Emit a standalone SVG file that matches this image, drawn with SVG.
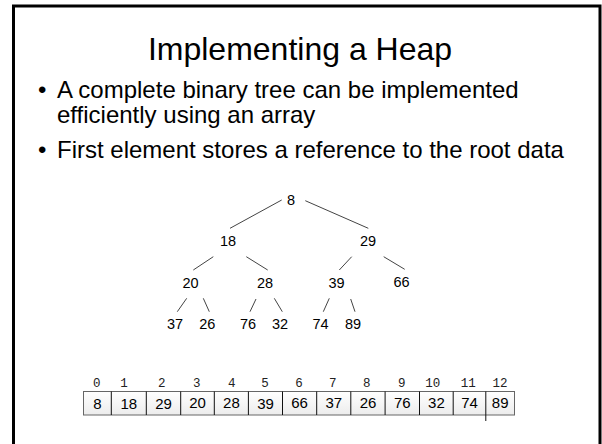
<svg xmlns="http://www.w3.org/2000/svg" width="602" height="444" viewBox="0 0 602 444">
<defs>
<style>
.title{font-family:"Liberation Sans",Arial,sans-serif;font-size:32px;fill:#000;text-anchor:middle}
.body{font-family:"Liberation Sans",Arial,sans-serif;font-size:24px;fill:#000}
.node{font-family:"Liberation Sans",Arial,sans-serif;font-size:14.5px;fill:#000;text-anchor:middle}
.val{font-family:"Liberation Sans",Arial,sans-serif;font-size:15px;fill:#000;text-anchor:middle}
.idx{font-family:"Liberation Mono","Courier New",monospace;font-size:12.5px;fill:#222;text-anchor:middle}
.edge{stroke:#444;stroke-width:1;fill:none}
.div{stroke:#111;stroke-width:1}
</style>
<linearGradient id="cellg" x1="0" y1="0" x2="0" y2="1">
<stop offset="0" stop-color="#ffffff"/>
<stop offset="1" stop-color="#ececec"/>
</linearGradient>
</defs>
<rect width="602" height="444" fill="#fff"/>
<path d="M13.5,446 V6 H600 V446" fill="none" stroke="#000" stroke-width="3"/>
<g id="title"><text class="title" x="300" y="60">Implementing a Heap</text></g>
<g id="bullets">
<text class="body" x="38" y="98">•</text>
<text class="body" x="57" y="98">A complete binary tree can be implemented</text>
<text class="body" x="57" y="123">efficiently using an array</text>
<text class="body" x="38" y="158">•</text>
<text class="body" x="57" y="158">First element stores a reference to the root data</text>
</g>
<g id="connectors">
<line class="edge" x1="281.7" y1="200" x2="230" y2="228.3"/>
<line class="edge" x1="305.3" y1="200.7" x2="368.3" y2="228.3"/>
<line class="edge" x1="213.3" y1="256.7" x2="193.3" y2="270"/>
<line class="edge" x1="246.3" y1="256.7" x2="267.7" y2="270"/>
<line class="edge" x1="351.7" y1="256.7" x2="339.3" y2="270"/>
<line class="edge" x1="383.7" y1="256.7" x2="404.7" y2="269.3"/>
<line class="edge" x1="186.7" y1="298.3" x2="177.3" y2="311.7"/>
<line class="edge" x1="203.3" y1="298.3" x2="209.3" y2="311.7"/>
<line class="edge" x1="256" y1="299" x2="250" y2="311.7"/>
<line class="edge" x1="274.3" y1="298.3" x2="282.3" y2="311.7"/>
<line class="edge" x1="329.3" y1="298.3" x2="323.3" y2="311.7"/>
<line class="edge" x1="350.7" y1="299" x2="355" y2="311.7"/>
</g>
<g id="n8"><text class="node" x="291" y="204.5">8</text></g>
<g id="n18"><text class="node" x="228" y="246">18</text></g>
<g id="n29"><text class="node" x="368" y="246">29</text></g>
<g id="n20"><text class="node" x="190.5" y="288">20</text></g>
<g id="n28"><text class="node" x="265" y="288">28</text></g>
<g id="n39"><text class="node" x="336.5" y="288">39</text></g>
<g id="n66"><text class="node" x="401.5" y="287">66</text></g>
<g id="n37"><text class="node" x="175" y="329">37</text></g>
<g id="n26"><text class="node" x="207.3" y="329">26</text></g>
<g id="n76"><text class="node" x="248" y="329">76</text></g>
<g id="n32"><text class="node" x="280" y="329">32</text></g>
<g id="n74"><text class="node" x="320.5" y="329">74</text></g>
<g id="n89"><text class="node" x="353" y="329">89</text></g>
<g id="array">
<rect x="83.5" y="391.5" width="431" height="23.5" fill="url(#cellg)" stroke="#666" stroke-width="1"/>
<line class="div" x1="111.3" y1="391.5" x2="111.3" y2="415"/>
<line class="div" x1="146.3" y1="391.5" x2="146.3" y2="415"/>
<line class="div" x1="180.7" y1="391.5" x2="180.7" y2="415"/>
<line class="div" x1="214.3" y1="391.5" x2="214.3" y2="415"/>
<line class="div" x1="248.4" y1="391.5" x2="248.4" y2="415"/>
<line class="div" x1="282.5" y1="391.5" x2="282.5" y2="415"/>
<line class="div" x1="316.7" y1="391.5" x2="316.7" y2="415"/>
<line class="div" x1="350.8" y1="391.5" x2="350.8" y2="415"/>
<line class="div" x1="385.1" y1="391.5" x2="385.1" y2="415"/>
<line class="div" x1="419.5" y1="391.5" x2="419.5" y2="415"/>
<line class="div" x1="453.2" y1="391.5" x2="453.2" y2="415"/>
<line class="div" x1="485.8" y1="391.5" x2="485.8" y2="421"/>
<text class="val" x="97.4" y="409">8</text>
<text class="val" x="128.8" y="409">18</text>
<text class="val" x="163.5" y="409">29</text>
<text class="val" x="197.5" y="408">20</text>
<text class="val" x="231.4" y="408">28</text>
<text class="val" x="265.5" y="409">39</text>
<text class="val" x="299.6" y="408">66</text>
<text class="val" x="333.8" y="408">37</text>
<text class="val" x="368" y="408">26</text>
<text class="val" x="402.3" y="408">76</text>
<text class="val" x="436.4" y="408">32</text>
<text class="val" x="469.5" y="408">74</text>
<text class="val" x="500.2" y="408">89</text>
<text class="idx" x="96.7" y="386.5">0</text>
<text class="idx" x="124" y="386.5">1</text>
<text class="idx" x="161.7" y="386.5">2</text>
<text class="idx" x="196.7" y="386.5">3</text>
<text class="idx" x="231.7" y="386.5">4</text>
<text class="idx" x="265" y="386.5">5</text>
<text class="idx" x="299" y="386.5">6</text>
<text class="idx" x="332.7" y="386.5">7</text>
<text class="idx" x="366.7" y="386.5">8</text>
<text class="idx" x="401.7" y="386.5">9</text>
<text class="idx" x="432.7" y="386.5">10</text>
<text class="idx" x="468.3" y="386.5">11</text>
<text class="idx" x="500" y="386.5">12</text>
</g>
</svg>
